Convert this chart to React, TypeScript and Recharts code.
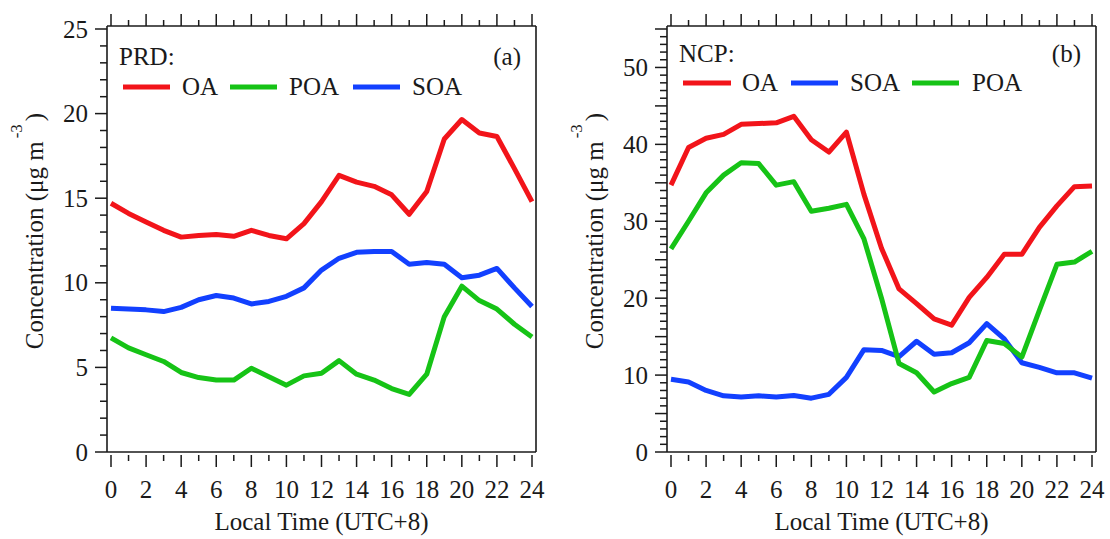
import React from 'react';
import { LineChart, Line, XAxis, YAxis } from 'recharts';

// Hour of day (local time, UTC+8)
const HOURS = [0, 1, 2, 3, 4, 5, 6, 7, 8, 9, 10, 11, 12, 13, 14, 15, 16, 17, 18, 19, 20, 21, 22, 23, 24];
const HOUR_LABELS = ['0', '2', '4', '6', '8', '10', '12', '14', '16', '18', '20', '22', '24'];

// PRD diurnal cycles (μg m-3)
const PRD_OA = [14.7, 14.1, 13.6, 13.1, 12.7, 12.8, 12.85, 12.75, 13.1, 12.8, 12.6, 13.5, 14.8, 16.35, 15.95, 15.7, 15.2, 14.05, 15.4, 18.5, 19.65, 18.85, 18.65, 16.75, 14.8];
const PRD_POA = [6.75, 6.15, 5.75, 5.35, 4.7, 4.4, 4.25, 4.25, 4.95, 4.45, 3.95, 4.5, 4.65, 5.4, 4.6, 4.25, 3.75, 3.4, 4.6, 8.0, 9.8, 8.95, 8.45, 7.55, 6.8];
const PRD_SOA = [8.5, 8.45, 8.4, 8.3, 8.55, 9.0, 9.25, 9.1, 8.75, 8.9, 9.2, 9.7, 10.75, 11.45, 11.8, 11.85, 11.85, 11.1, 11.2, 11.1, 10.3, 10.45, 10.85, 9.7, 8.6];

// NCP diurnal cycles (μg m-3)
const NCP_OA = [34.7, 39.6, 40.8, 41.3, 42.6, 42.7, 42.8, 43.65, 40.6, 39.0, 41.6, 33.5, 26.5, 21.2, 19.3, 17.3, 16.5, 20.1, 22.7, 25.7, 25.7, 29.2, 32.0, 34.5, 34.6];
const NCP_SOA = [9.45, 9.1, 8.0, 7.3, 7.15, 7.3, 7.15, 7.35, 7.0, 7.5, 9.7, 13.3, 13.2, 12.4, 14.4, 12.7, 12.9, 14.2, 16.7, 14.7, 11.6, 11.0, 10.3, 10.3, 9.6];
const NCP_POA = [26.4, 30.0, 33.7, 36.0, 37.6, 37.5, 34.7, 35.15, 31.3, 31.7, 32.2, 27.7, 20.0, 11.5, 10.3, 7.8, 8.9, 9.7, 14.5, 14.1, 12.35, 18.4, 24.4, 24.7, 26.1];

// Y axis ticks: minor every 1, major every 5
const PRD_Y_TICKS = [0, 1, 2, 3, 4, 5, 6, 7, 8, 9, 10, 11, 12, 13, 14, 15, 16, 17, 18, 19, 20, 21, 22, 23, 24, 25];
const PRD_Y_MAJOR = [0, 5, 10, 15, 20, 25];
const PRD_Y_LABELS = ['0', '5', '10', '15', '20', '25'];
const NCP_Y_TICKS = [0, 1, 2, 3, 4, 5, 6, 7, 8, 9, 10, 11, 12, 13, 14, 15, 16, 17, 18, 19, 20, 21, 22, 23, 24, 25, 26, 27, 28, 29, 30, 31, 32, 33, 34, 35, 36, 37, 38, 39, 40, 41, 42, 43, 44, 45, 46, 47, 48, 49, 50, 51, 52, 53, 54, 55];
const NCP_Y_MAJOR = [0, 5, 10, 15, 20, 25, 30, 35, 40, 45, 50, 55];
const NCP_Y_LABELS = ['0', '10', '20', '30', '40', '50'];

const RED = '#f2141a';
const GREEN = '#16c316';
const BLUE = '#1240ff';
const INK = '#1a1a1a';
const FONT = '"Liberation Serif", "Times New Roman", serif';

const PLOT_LEFT = 107;
const PLOT_RIGHT = 536;
const PLOT_TOP = 26;
const PLOT_BOTTOM = 452;

type Series = { key: string; name: string; color: string; values: number[] };

const buildRows = (series: Series[]) =>
  HOURS.map((h, i) => {
    const row: Record<string, number> = { hour: h };
    series.forEach((s) => {
      row[s.key] = s.values[i];
    });
    return row;
  });

const isHourMajor = (v: number) => HOUR_LABELS.includes(String(v));

const BottomTick = (p: any) => {
  const v = p.payload.value;
  const major = isHourMajor(v);
  return (
    <g>
      <line x1={p.x} x2={p.x} y1={p.y + 3} y2={p.y + (major ? 15 : 9)} stroke={INK} strokeWidth={1.5} />
      {major && (
        <text x={p.x} y={p.y + 46} textAnchor="middle" fontSize={25} fontFamily={FONT} fill={INK}>
          {String(v)}
        </text>
      )}
    </g>
  );
};

const TopTick = (p: any) => {
  const v = p.payload.value;
  const major = isHourMajor(v);
  return <line x1={p.x} x2={p.x} y1={p.y} y2={p.y - (major ? 12 : 6)} stroke={INK} strokeWidth={1.5} />;
};

const makeLeftTick = (majors: number[], labels: string[]) => (p: any) => {
  const v = p.payload.value;
  const major = majors.includes(v);
  const labeled = labels.includes(String(v));
  return (
    <g>
      <line x1={p.x} x2={p.x - (major ? 12 : 7)} y1={p.y} y2={p.y} stroke={INK} strokeWidth={1.5} />
      {labeled && (
        <text x={p.x - 19} y={p.y + 8.5} textAnchor="end" fontSize={25} fontFamily={FONT} fill={INK}>
          {String(v)}
        </text>
      )}
    </g>
  );
};

const makeRightTick = (majors: number[]) => (p: any) => {
  const v = p.payload.value;
  const major = majors.includes(v);
  return <line x1={p.x} x2={p.x + (major ? 12 : 6)} y1={p.y} y2={p.y} stroke={INK} strokeWidth={1.5} />;
};

const YTitle = () => {
  const x = 43;
  const cy = 231;
  return (
    <text
      transform={`rotate(-90 ${x} ${cy})`}
      x={x}
      y={cy}
      textAnchor="middle"
      fontSize={25}
      fontFamily={FONT}
      fill={INK}
    >
      Concentration (μg m
      <tspan fontSize={17} dy={-21} dx={3}>
        -3
      </tspan>
      <tspan dy={21} dx={3}>
        )
      </tspan>
    </text>
  );
};

const XTitle = () => (
  <text
    x={(PLOT_LEFT + PLOT_RIGHT) / 2}
    y={530}
    textAnchor="middle"
    fontSize={25}
    fontFamily={FONT}
    fill={INK}
  >
    Local Time (UTC+8)
  </text>
);

type LegendLayout = {
  titleY: number;
  rowY: number;
  textY: number;
  items: { x1: number; x2: number; tx: number }[];
};

const makeLegend = (region: string, tag: string, series: Series[], layout: LegendLayout) => () => (
  <g fontFamily={FONT} fontSize={25} fill={INK}>
    <text x={119} y={layout.titleY}>
      {region}
    </text>
    <text x={521} y={layout.titleY} textAnchor="end">
      {tag}
    </text>
    {series.map((s, i) => (
      <g key={s.key}>
        <line
          x1={layout.items[i].x1}
          x2={layout.items[i].x2}
          y1={layout.rowY}
          y2={layout.rowY}
          stroke={s.color}
          strokeWidth={5}
        />
        <text x={layout.items[i].tx} y={layout.textY}>
          {s.name}
        </text>
      </g>
    ))}
  </g>
);

type PanelProps = {
  width: number;
  region: string;
  tag: string;
  series: Series[];
  yMax: number;
  yTicks: number[];
  yMajor: number[];
  yLabels: string[];
  legend: LegendLayout;
};

const Panel = ({ width, region, tag, series, yMax, yTicks, yMajor, yLabels, legend }: PanelProps) => {
  const rows = buildRows(series);
  const Legend = makeLegend(region, tag, series, legend);
  const axisLine = { stroke: INK, strokeWidth: 1.6 };
  return (
    <LineChart width={width} height={539} data={rows} margin={{ top: 0, right: 0, bottom: 0, left: 0 }}>
      <XAxis
        xAxisId="b"
        dataKey="hour"
        type="number"
        domain={[0, 24]}
        ticks={HOURS}
        interval={0}
        padding={{ left: 4, right: 4 }}
        height={539 - PLOT_BOTTOM}
        tickSize={0}
        tickMargin={0}
        tickLine={false}
        axisLine={axisLine}
        tick={BottomTick}
        label={<XTitle />}
      />
      <XAxis
        xAxisId="t"
        orientation="top"
        dataKey="hour"
        type="number"
        domain={[0, 24]}
        ticks={HOURS}
        interval={0}
        padding={{ left: 4, right: 4 }}
        height={PLOT_TOP}
        tickSize={0}
        tickMargin={0}
        tickLine={false}
        axisLine={axisLine}
        tick={TopTick}
        label={<Legend />}
      />
      <YAxis
        yAxisId="l"
        type="number"
        domain={[0, yMax]}
        ticks={yTicks}
        interval={0}
        padding={{ top: 3, bottom: 0 }}
        width={PLOT_LEFT}
        tickSize={0}
        tickMargin={0}
        tickLine={false}
        axisLine={axisLine}
        tick={makeLeftTick(yMajor, yLabels)}
        label={<YTitle />}
      />
      <YAxis
        yAxisId="r"
        orientation="right"
        type="number"
        domain={[0, yMax]}
        ticks={yTicks}
        interval={0}
        padding={{ top: 3, bottom: 0 }}
        width={width - PLOT_RIGHT}
        tickSize={0}
        tickMargin={0}
        tickLine={false}
        axisLine={axisLine}
        tick={makeRightTick(yMajor)}
      />
      {series.map((s) => (
        <Line
          key={s.key}
          xAxisId="b"
          yAxisId="l"
          type="linear"
          dataKey={s.key}
          stroke={s.color}
          strokeWidth={5}
          strokeLinejoin="round"
          dot={false}
          activeDot={false}
          isAnimationActive={false}
        />
      ))}
    </LineChart>
  );
};

const PRD_SERIES: Series[] = [
  { key: 'OA', name: 'OA', color: RED, values: PRD_OA },
  { key: 'POA', name: 'POA', color: GREEN, values: PRD_POA },
  { key: 'SOA', name: 'SOA', color: BLUE, values: PRD_SOA },
];

const NCP_SERIES: Series[] = [
  { key: 'OA', name: 'OA', color: RED, values: NCP_OA },
  { key: 'SOA', name: 'SOA', color: BLUE, values: NCP_SOA },
  { key: 'POA', name: 'POA', color: GREEN, values: NCP_POA },
];

export default function App() {
  return (
    <div style={{ position: 'absolute', left: 0, top: 0, width: 1110, height: 539, background: '#fff' }}>
      <div style={{ position: 'absolute', left: 0, top: 0 }}>
        <Panel
          width={560}
          region="PRD:"
          tag="(a)"
          series={PRD_SERIES}
          yMax={25}
          yTicks={PRD_Y_TICKS}
          yMajor={PRD_Y_MAJOR}
          yLabels={PRD_Y_LABELS}
          legend={{
            titleY: 65,
            rowY: 87,
            textY: 95,
            items: [
              { x1: 123, x2: 170, tx: 182 },
              { x1: 230, x2: 277, tx: 289 },
              { x1: 353, x2: 400, tx: 412 },
            ],
          }}
        />
      </div>
      <div style={{ position: 'absolute', left: 560, top: 0 }}>
        <Panel
          width={550}
          region="NCP:"
          tag="(b)"
          series={NCP_SERIES}
          yMax={55}
          yTicks={NCP_Y_TICKS}
          yMajor={NCP_Y_MAJOR}
          yLabels={NCP_Y_LABELS}
          legend={{
            titleY: 62,
            rowY: 83,
            textY: 91,
            items: [
              { x1: 123, x2: 171, tx: 182 },
              { x1: 231, x2: 278, tx: 290 },
              { x1: 352, x2: 399, tx: 412 },
            ],
          }}
        />
      </div>
    </div>
  );
}
